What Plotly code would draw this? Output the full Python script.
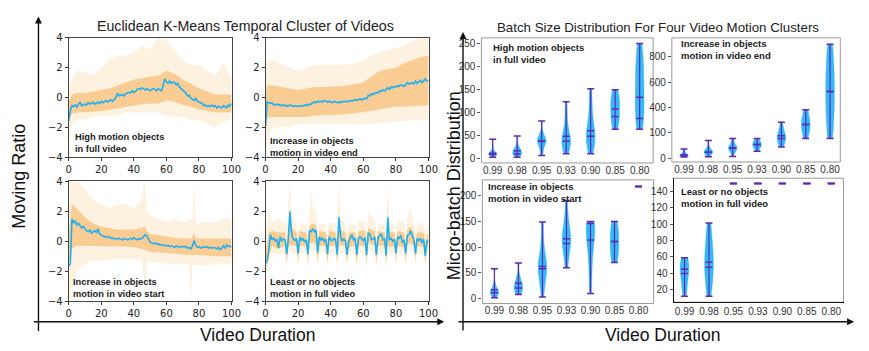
import plotly.graph_objects as go

W, H = 869, 351

# ---------------- time-series data (left block) ----------------
T = list(range(101))

TL_MEAN = [-1.6, -0.9, -0.55, -0.6, -0.5, -0.65, -0.45, -0.3, -0.55, -0.5,
           -0.45, -0.5, -0.35, -0.45, -0.4, -0.3, -0.45, -0.35, -0.3, -0.4,
           -0.25, -0.35, -0.3, -0.2, -0.3, -0.25, -0.15, -0.25, -0.1, 0.0,
           0.3, 0.1, 0.15, 0.2, 0.1, 0.25, 0.3, 0.35, 0.3, 0.45,
           0.35, 0.4, 0.55, 0.6, 0.55, 0.65, 0.6, 0.5, 0.6, 0.55,
           0.45, 0.55, 0.6, 0.55, 0.45, 0.6, 0.5, 0.45, 0.8, 1.25,
           1.05, 0.95, 1.1, 0.95, 1.05, 1.0, 0.85, 0.95, 0.7, 0.6,
           0.45, 0.35, 0.3, 0.1, 0.15, -0.05, -0.1, -0.2, -0.05, -0.25,
           -0.3, -0.35, -0.4, -0.55, -0.5, -0.6, -0.55, -0.6, -0.5, -0.6,
           -0.55, -0.7, -0.6, -0.65, -0.7, -0.55, -0.65, -0.7, -0.5, -0.6, -0.4]

TR_MEAN = [-1.95, -0.3, -0.35, -0.4, -0.35, -0.5, -0.45, -0.5, -0.45, -0.55,
           -0.5, -0.55, -0.5, -0.6, -0.55, -0.5, -0.55, -0.6, -0.55, -0.6,
           -0.6, -0.55, -0.6, -0.55, -0.5, -0.55, -0.45, -0.5, -0.4, -0.35,
           -0.3, -0.35, -0.25, -0.3, -0.25, -0.3, -0.2, -0.25, -0.3, -0.25,
           -0.3, -0.35, -0.25, -0.3, -0.35, -0.3, -0.35, -0.25, -0.3, -0.25,
           -0.3, -0.25, -0.2, -0.25, -0.2, -0.15, -0.2, -0.15, -0.1, -0.15,
           -0.1, -0.05, -0.1, 0.15, 0.1, 0.25, 0.2, 0.3, 0.35, 0.3,
           0.45, 0.4, 0.5, 0.45, 0.55, 0.65, 0.55, 0.7, 0.65, 0.75,
           0.7, 0.8, 0.75, 0.85, 0.8, 0.75, 0.85, 1.0, 0.9, 0.95,
           1.0, 0.9, 1.1, 0.95, 1.05, 1.15, 1.0, 1.15, 1.25, 1.1, 1.15]

BL_MEAN = [-1.65, -1.5, 1.5, 1.25, 1.35, 1.1, 1.2, 1.0, 0.9, 1.0,
           0.8, 0.7, 0.65, 0.75, 0.55, 0.6, 0.7, 0.6, 0.85, 0.5,
           0.4, 0.35, 0.3, 0.35, 0.25, 0.3, 0.2, 0.25, 0.15, 0.2,
           0.15, 0.2, 0.15, 0.1, 0.2, 0.15, 0.1, 0.15, 0.2, 0.15,
           0.25, 0.15, 0.1, 0.2, 0.15, 0.2, 0.3, 0.45, 0.35, 0.1,
           -0.05, -0.1, -0.15, -0.1, -0.2, -0.15, -0.25, -0.2, -0.3, -0.25,
           -0.3, -0.25, -0.35, -0.3, -0.35, -0.4, -0.3, -0.35, -0.4, -0.35,
           -0.35, -0.4, -0.35, -0.45, -0.4, -0.5, -0.3, 0.05, -0.25, -0.4,
           -0.35, -0.45, -0.4, -0.35, -0.4, -0.35, -0.45, -0.4, -0.45, -0.4,
           -0.45, -0.5, -0.4, -0.55, -0.45, -0.3, -0.45, -0.25, -0.35, -0.3, -0.4]

BR_MEAN = [-1.45, -1.3, -0.6, 0.45, 0.1, 0.25, 0.0, 0.15, -0.45, 0.3,
           0.05, 0.15, 0.1, -0.85, 0.2, 2.0, 0.5, 0.15, 0.05, 0.2,
           -0.8, 0.3, 0.05, 0.2, -0.05, 0.1, -0.85, 0.7, 0.65, 0.85,
           0.65, 0.75, -0.75, 0.3, 0.1, 0.2, 0.0, 0.15, -0.85, 0.3,
           0.1, 0.05, 0.2, 0.1, -0.9, 1.6, 0.4, 0.0, 0.15, 0.05,
           -0.9, 0.0, 0.2, 0.45, 0.1, 0.2, -0.9, 0.2, 0.3, 0.15,
           0.05, 0.25, -0.9, 0.55, 0.5, 0.1, 0.15, 0.3, -0.9, 0.25,
           0.4, 0.5, 0.1, 0.2, -0.95, 1.6, 0.1, 0.2, 0.0, 0.15,
           -0.8, 0.3, 0.2, 0.4, -0.1, 0.1, -0.8, 0.4, 0.45, 0.7,
           0.4, 0.1, -0.8, 0.2, 0.05, 0.2, -0.1, 0.15, -0.95, 0.0, 0.05]

# spread of the individual (orange) video curves: outer and dense inner envelopes
TL_BX = [0, 2, 5, 10, 15, 20, 25, 30, 35, 40, 45, 50, 55, 60, 65, 70, 75, 80, 85, 90, 95, 100]
TL_OUT_LO = [-3.2, -1.8, -1.5, -1.5, -1.3, -1.2, -1.2, -1.2, -1.0, -1.0, -1.0, -1.0, -1.0, -1.2, -1.3, -1.3, -1.5, -1.5, -1.8, -2.0, -1.6, -1.5]
TL_OUT_HI = [0.5, 1.2, 1.8, 1.7, 1.5, 2.0, 2.5, 2.8, 2.8, 3.0, 3.5, 3.2, 4.0, 3.8, 3.2, 2.5, 2.2, 2.2, 1.8, 1.5, 2.3, 1.2]
TL_IN_LO = [-1.5, -1.1, -1.0, -1.0, -0.95, -0.9, -0.8, -0.7, -0.6, -0.5, -0.45, -0.4, -0.4, -0.2, -0.3, -0.5, -0.6, -0.8, -0.9, -1.0, -1.0, -1.0]
TL_IN_HI = [-0.3, 0.2, 0.3, 0.3, 0.4, 0.5, 0.6, 0.8, 1.0, 1.2, 1.3, 1.4, 1.5, 1.8, 1.6, 1.2, 0.9, 0.6, 0.4, 0.2, 0.2, 0.2]

TR_BX = [0, 1, 3, 5, 10, 15, 20, 25, 30, 35, 40, 45, 50, 55, 60, 65, 70, 75, 80, 85, 90, 95, 100]
TR_OUT_LO = [-4.0, -3.0, -2.2, -2.0, -2.0, -2.0, -1.8, -1.8, -1.8, -1.8, -1.8, -1.8, -1.8, -1.8, -1.8, -1.8, -1.7, -1.7, -1.6, -1.6, -1.5, -1.5, -1.5]
TR_OUT_HI = [1.0, 2.5, 2.5, 2.5, 2.2, 2.0, 1.8, 2.0, 2.2, 2.2, 2.2, 2.2, 2.2, 2.3, 2.5, 2.8, 3.0, 3.2, 3.3, 3.5, 3.8, 4.0, 4.0]
TR_IN_LO = [-2.0, -1.4, -1.3, -1.3, -1.3, -1.3, -1.3, -1.3, -1.2, -1.2, -1.2, -1.15, -1.1, -1.05, -1.0, -0.9, -0.8, -0.7, -0.6, -0.6, -0.6, -0.55, -0.5]
TR_IN_HI = [0.0, 0.8, 0.8, 0.8, 0.7, 0.6, 0.5, 0.6, 0.7, 0.7, 0.7, 0.75, 0.8, 0.9, 1.0, 1.4, 1.8, 1.9, 2.0, 2.3, 2.5, 2.7, 2.8]

BL_BX = [0, 1, 2, 5, 10, 15, 20, 25, 30, 35, 40, 45, 46, 47, 48, 50, 55, 60, 65, 70, 74, 75, 76, 77, 78, 80, 85, 90, 95, 100]
BL_OUT_LO = [-4.0, -3.5, -3.0, -2.0, -1.5, -1.3, -1.3, -1.2, -1.2, -1.2, -1.2, -1.3, -2.5, -3.5, -1.4, -1.4, -1.4, -1.5, -1.5, -1.5, -1.5, -4.0, -1.6, -1.6, -1.6, -1.6, -1.6, -1.5, -1.5, -1.5]
BL_OUT_HI = [2.0, 4.0, 4.0, 4.0, 3.5, 2.8, 2.5, 2.2, 2.5, 2.5, 2.2, 2.8, 4.0, 4.0, 2.0, 1.8, 1.5, 1.3, 1.5, 1.3, 1.4, 1.5, 1.4, 4.0, 1.3, 1.2, 1.3, 1.2, 1.5, 1.5]
BL_IN_LO = [-1.5, -1.0, -0.5, -0.3, -0.3, -0.3, -0.3, -0.3, -0.3, -0.35, -0.4, -0.5, -0.55, -0.6, -0.65, -0.7, -0.75, -0.8, -0.85, -0.9, -0.9, -0.9, -0.9, -0.9, -0.9, -0.9, -0.95, -1.0, -1.0, -1.0]
BL_IN_HI = [0.5, 1.5, 2.5, 2.2, 1.6, 1.2, 1.0, 0.9, 0.8, 0.8, 0.8, 0.9, 1.0, 1.0, 0.7, 0.5, 0.4, 0.3, 0.25, 0.2, 0.2, 0.2, 0.3, 0.6, 0.2, 0.2, 0.2, 0.2, 0.2, 0.2]

BR_BX = [0, 2, 4, 8, 12, 13, 14, 15, 16, 19, 20, 21, 25, 26, 27, 28, 29, 31, 32, 33, 37, 38, 39,
         43, 44, 45, 46, 49, 50, 51, 55, 56, 57, 61, 62, 63, 67, 68, 69, 73, 74, 75, 76,
         79, 80, 81, 85, 86, 87, 89, 91, 92, 93, 97, 98, 99, 100]
BR_OUT_LO = [-2.3, -1.5, -0.8, -0.9, -0.8, -1.8, -0.9, -0.6, -0.8, -0.8, -1.8, -0.8, -0.8, -1.8, -0.7, -0.6, -0.6, -0.7, -1.8, -0.8, -0.8, -1.8, -0.8,
             -0.8, -1.9, -0.6, -0.8, -0.8, -1.8, -0.9, -0.8, -1.8, -0.8, -0.8, -1.8, -0.6, -0.8, -1.8, -0.8, -0.8, -1.9, -0.6, -0.9,
             -0.8, -1.7, -0.8, -0.9, -1.7, -0.7, -0.6, -0.8, -1.7, -0.8, -0.9, -1.8, -0.9, -0.9]
BR_OUT_HI = [0.3, 2.0, 1.3, 1.5, 1.2, 0.8, 2.5, 4.0, 1.8, 1.1, 0.5, 1.3, 1.1, 0.5, 2.0, 3.5, 2.2, 2.0, 0.6, 1.2, 1.1, 0.5, 1.3,
             1.2, 0.5, 4.0, 1.5, 1.1, 0.4, 1.1, 1.2, 0.4, 1.4, 1.3, 0.5, 2.0, 1.4, 0.4, 1.2, 1.2, 0.4, 4.0, 1.4,
             1.1, 0.5, 1.4, 1.3, 0.5, 1.6, 2.2, 1.2, 0.4, 1.2, 1.2, 0.4, 1.0, 1.2]
BR_IN_LO = [-1.8, -1.0, -0.3, -0.5, -0.3, -1.4, -0.4, -0.2, -0.3, -0.3, -1.4, -0.3, -0.3, -1.4, -0.2, -0.1, -0.1, -0.2, -1.4, -0.3, -0.3, -1.4, -0.3,
            -0.3, -1.4, -0.2, -0.3, -0.3, -1.4, -0.4, -0.3, -1.4, -0.3, -0.3, -1.4, -0.1, -0.3, -1.4, -0.3, -0.3, -1.4, -0.2, -0.4,
            -0.3, -1.3, -0.3, -0.4, -1.3, -0.2, -0.1, -0.3, -1.3, -0.3, -0.4, -1.4, -0.4, -0.4]
BR_IN_HI = [-0.8, 0.6, 0.7, 0.6, 0.6, -0.3, 0.8, 2.2, 0.9, 0.6, -0.3, 0.7, 0.6, -0.3, 1.0, 1.2, 1.2, 1.1, -0.2, 0.7, 0.6, -0.3, 0.7,
            0.6, -0.3, 1.9, 0.8, 0.6, -0.3, 0.6, 0.6, -0.3, 0.7, 0.7, -0.3, 0.9, 0.7, -0.3, 0.7, 0.6, -0.3, 1.9, 0.6,
            0.6, -0.2, 0.7, 0.6, -0.2, 0.8, 1.0, 0.6, -0.2, 0.6, 0.6, -0.3, 0.5, 0.5]

TS_LABELS = ["High motion objects<br>in full video",
             "Increase in objects<br>motion in video end",
             "Increase in objects<br>motion in video start",
             "Least or no objects<br>motion in full video"]

# ---------------- violin data (right block) ----------------
CATS = ["0.99", "0.98", "0.95", "0.93", "0.90", "0.85", "0.80"]

V_TL_SAMPLES = [[2, 5, 6, 7, 8, 8, 9, 10, 10, 11, 12, 13, 15, 18, 25, 41],
                [2, 6, 8, 9, 10, 12, 14, 16, 18, 20, 22, 30, 48],
                [6, 15, 22, 28, 32, 35, 37, 38, 40, 42, 45, 50, 58, 81],
                [10, 18, 25, 30, 33, 36, 38, 42, 48, 55, 65, 80, 100, 123],
                [10, 20, 28, 35, 40, 45, 48, 52, 58, 65, 75, 90, 110, 130, 151],
                [63, 70, 78, 85, 92, 100, 107, 114, 121, 128, 135, 142, 149],
                [63, 75, 85, 95, 110, 125, 140, 155, 170, 185, 200, 215, 230, 250]]
V_TL_MIN = [2, 2, 5.6, 9.8, 9.8, 63, 63]
V_TL_MAX = [41, 48, 81, 123, 151, 149, 250]
V_TL_MEAN = [10.5, 16, 36.5, 47.8, 59.7, 106.8, 132.8]
V_TL_MED = [7.7, 9, 36.5, 36.5, 47.8, 90.7, 86.4]

V_TR_SAMPLES = [[8, 12, 15, 18, 20, 22, 25, 28, 32, 40, 55, 71],
                [10, 25, 35, 40, 45, 50, 55, 60, 70, 90, 138],
                [13, 40, 55, 65, 72, 78, 82, 88, 95, 105, 130, 155],
                [54, 70, 85, 95, 102, 107, 112, 120, 130, 145, 155],
                [87, 110, 130, 145, 155, 165, 176, 190, 210, 240, 283],
                [155, 190, 220, 245, 265, 285, 310, 340, 382],
                [155, 250, 350, 450, 527, 600, 700, 800, 899]]
V_TR_MIN = [8, 10, 13, 54, 87, 155, 155]
V_TR_MAX = [71, 138, 155, 155, 283, 382, 899]
V_TR_MEAN = [25, 46, 79, 107, 176, 265, 527]
V_TR_MED = [25, 46, 79, 107, 155, 265, 527]
V_TR_TICKVALS = [0, 200, 400, 600, 800]
V_TR_TICKTEXT = ["0", "100", "400", "600", "800"]

V_BL_SAMPLES = [[1.3, 5, 8, 10, 11, 12, 14, 16, 18, 22, 30, 57.7],
                [7.5, 12, 16, 18, 20, 22, 25, 28, 32, 38, 45, 69],
                [2.5, 20, 35, 45, 52, 58, 62, 66, 72, 80, 95, 120, 148.6],
                [59.6, 80, 95, 105, 110, 116, 122, 130, 140, 160, 190.6],
                [9.4, 40, 70, 95, 110, 120, 130, 138, 143, 146, 148, 150],
                [70, 80, 90, 100, 110, 120, 130, 140, 150],
                []]
V_BL_MIN = [1.3, 7.5, 2.5, 59.6, 9.4, 70, 218]
V_BL_MAX = [57.7, 69, 148.6, 190.6, 150, 150, 218]
V_BL_MEAN = [16.9, 29.5, 62, 116, 113.5, 111, 218]
V_BL_MED = [10.7, 20, 57.7, 107, 146, 111, 218]

V_BR_SAMPLES = [[11.3, 20, 28, 35, 40, 44, 48, 52, 56, 58.8],
                [11.3, 25, 35, 45, 50, 55, 65, 75, 88, 101.6],
                [], [], [], [], []]
V_BR_MIN = [11.3, 11.3, 150, 150, 150, 150, 150]
V_BR_MAX = [58.8, 101.6, 150, 150, 150, 150, 150]
V_BR_MEAN = [44.6, 53.3, 150, 150, 150, 150, 150]
V_BR_MED = [39.4, 47, 150, 150, 150, 150, 150]

V_LABELS = TS_LABELS

# ---------------- styling ----------------
BLUE = "#1eb0f0"
ORANGE_OUT = "rgba(246,172,74,0.17)"
ORANGE_IN = "rgba(242,160,50,0.45)"
VIOLIN_FILL = "rgba(24,176,242,0.88)"
PURPLE = "#6228b4"
ARIAL = "Liberation Sans, Arial, sans-serif"
DEJAVU = "DejaVu Sans, sans-serif"


def px(xp):
    return xp / W


def py(yp):
    return 1 - yp / H


def axkey(i, kind):
    return kind + "axis" + ("" if i == 1 else str(i))


def axref(i, kind):
    return kind + ("" if i == 1 else str(i))


fig = go.Figure()
layout = dict(width=W, height=H, margin=dict(l=0, r=0, t=0, b=0),
              paper_bgcolor="white", plot_bgcolor="white", showlegend=False,
              violinmode="overlay")

# --- time-series panels ---
ts_boxes = [(66.7, 232.0, 33.0, 156.5), (266.5, 432.0, 33.0, 156.5),
            (66.7, 232.0, 181.7, 305.7), (266.5, 432.0, 181.7, 305.7)]
ts_data = [(TL_MEAN, TL_BX, TL_OUT_LO, TL_OUT_HI, TL_IN_LO, TL_IN_HI),
           (TR_MEAN, TR_BX, TR_OUT_LO, TR_OUT_HI, TR_IN_LO, TR_IN_HI),
           (BL_MEAN, BL_BX, BL_OUT_LO, BL_OUT_HI, BL_IN_LO, BL_IN_HI),
           (BR_MEAN, BR_BX, BR_OUT_LO, BR_OUT_HI, BR_IN_LO, BR_IN_HI)]

annotations = []
for k, ((x0, x1, y0, y1), (mean, bx, olo, ohi, ilo, ihi)) in enumerate(zip(ts_boxes, ts_data)):
    i = k + 1
    xa, ya = axref(i, "x"), axref(i, "y")
    common = dict(xaxis=xa, yaxis=ya, hoverinfo="skip", showlegend=False)
    fig.add_trace(go.Scatter(x=bx, y=olo, mode="lines", line=dict(width=0, color=ORANGE_OUT), **common))
    fig.add_trace(go.Scatter(x=bx, y=ohi, mode="lines", line=dict(width=0, color=ORANGE_OUT),
                             fill="tonexty", fillcolor=ORANGE_OUT, **common))
    fig.add_trace(go.Scatter(x=bx, y=ilo, mode="lines", line=dict(width=0, color=ORANGE_IN), **common))
    fig.add_trace(go.Scatter(x=bx, y=ihi, mode="lines", line=dict(width=0, color=ORANGE_IN),
                             fill="tonexty", fillcolor=ORANGE_IN, **common))
    fig.add_trace(go.Scatter(x=T, y=mean, mode="lines", line=dict(width=1.6, color=BLUE), **common))
    layout[axkey(i, "x")] = dict(domain=[px(x0), px(x1)], anchor=ya, range=[0, 100],
                                 tickvals=[0, 20, 40, 60, 80, 100], ticks="outside", ticklen=3,
                                 tickcolor="#333", showline=True, linecolor="#444", linewidth=1,
                                 mirror=True, showgrid=False, zeroline=False,
                                 tickfont=dict(family=DEJAVU, size=10, color="#222"))
    layout[axkey(i, "y")] = dict(domain=[py(y1), py(y0)], anchor=xa, range=[-4, 4],
                                 tickvals=[-4, -2, 0, 2, 4], ticks="outside", ticklen=3,
                                 tickcolor="#333", showline=True, linecolor="#444", linewidth=1,
                                 mirror=True, showgrid=False, zeroline=False,
                                 tickfont=dict(family=DEJAVU, size=10, color="#222"))

ts_text_pos = [(71.0, 142.0), (269.3, 145.5), (69.0, 292.0), (269.3, 292.0)]
for (tx, ty), txt in zip(ts_text_pos, TS_LABELS):
    annotations.append(dict(x=px(tx), y=py(ty), xref="paper", yref="paper", text="<b>" + txt + "</b>",
                            showarrow=False, xanchor="left", yanchor="middle", align="left",
                            font=dict(family=ARIAL, size=9.3, color="#222")))

# --- violin panels ---
v_boxes = [(485.7, 660.0, 33.0, 162.5), (679.0, 850.0, 33.0, 161.5),
           (486.7, 660.5, 180.0, 308.0), (680.7, 853.3, 178.3, 306.7)]
v_xranges = [[-0.46, 6.55], [-0.5, 6.42], [-0.5, 6.63], [-0.45, 6.5]]
v_yranges = [[-10.5, 262], [-31, 950], [-10, 231], [4.1, 156.6]]
v_ticks = [([0, 50, 100, 150, 200, 250], None), (V_TR_TICKVALS, V_TR_TICKTEXT),
           ([0, 50, 100, 150, 200], None), ([20, 40, 60, 80, 100, 120, 140], None)]
v_data = [(V_TL_SAMPLES, V_TL_MIN, V_TL_MAX, V_TL_MEAN, V_TL_MED),
          (V_TR_SAMPLES, V_TR_MIN, V_TR_MAX, V_TR_MEAN, V_TR_MED),
          (V_BL_SAMPLES, V_BL_MIN, V_BL_MAX, V_BL_MEAN, V_BL_MED),
          (V_BR_SAMPLES, V_BR_MIN, V_BR_MAX, V_BR_MEAN, V_BR_MED)]

shapes = []
for k in range(4):
    i = k + 5
    xa, ya = axref(i, "x"), axref(i, "y")
    x0, x1, y0, y1 = v_boxes[k]
    samples, mins, maxs, means, meds = v_data[k]
    # one violin trace per category so each violin gets its own width scaling
    for c, s in zip(CATS, samples):
        if not s:
            continue
        fig.add_trace(go.Violin(x=[c] * len(s), y=s, xaxis=xa, yaxis=ya, width=0.36,
                                scalemode="width", spanmode="hard", points=False,
                                fillcolor=VIOLIN_FILL,
                                line=dict(color="rgba(24,176,242,0.55)", width=0.6),
                                hoverinfo="skip", showlegend=False))
    lx, ly = [], []
    for c, lo, hi in zip(CATS, mins, maxs):
        lx += [c, c, None]
        ly += [lo, hi, None]
    fig.add_trace(go.Scatter(x=lx, y=ly, xaxis=xa, yaxis=ya, mode="lines",
                             line=dict(color=PURPLE, width=1.2), hoverinfo="skip", showlegend=False))
    fig.add_trace(go.Scatter(x=CATS * 4, y=mins + maxs + means + meds, xaxis=xa, yaxis=ya,
                             mode="markers", marker=dict(symbol="line-ew", size=5,
                                                         line=dict(color=PURPLE, width=1.5)),
                             hoverinfo="skip", showlegend=False))
    tv, tt = v_ticks[k]
    yax = dict(domain=[py(y1), py(y0)], anchor=xa, range=v_yranges[k], tickvals=tv,
               ticks="outside", ticklen=3, tickcolor="#555", showgrid=False, zeroline=False,
               showline=False, tickfont=dict(family=ARIAL, size=10, color="#333"))
    if tt is not None:
        yax["ticktext"] = tt
    xax = dict(domain=[px(x0), px(x1)], anchor=ya, type="category", categoryorder="array",
               categoryarray=CATS, range=v_xranges[k], ticks="", showgrid=False, zeroline=False,
               showline=False, tickfont=dict(family=ARIAL, size=10, color="#333"))
    if k == 3:
        xax.update(showline=True, linecolor="#111", linewidth=1)
        yax.update(showline=True, linecolor="#111", linewidth=1)
    layout[axkey(i, "x")] = xax
    layout[axkey(i, "y")] = yax
    shapes.append(dict(type="rect", xref=xa + " domain", yref=ya + " domain", x0=0, x1=1, y0=0, y1=1,
                       line=dict(color="#9a9a9a", width=1), layer="below"))

v_text_pos = [(495.0, 48.8), (686.0, 45.5), (490.7, 193.0), (686.0, 198.7)]
for (tx, ty), txt in zip(v_text_pos, V_LABELS):
    annotations.append(dict(x=px(tx), y=py(ty), xref="paper", yref="paper", text="<b>" + txt + "</b>",
                            showarrow=False, xanchor="left", yanchor="middle", align="left",
                            font=dict(family=ARIAL, size=9.5, color="#222")))

# --- titles and big axis labels ---
annotations += [
    dict(x=px(246.5), y=py(21), xref="paper", yref="paper", text="Euclidean K-Means Temporal Cluster of Videos",
         showarrow=False, font=dict(family=ARIAL, size=14.2, color="#222"), xanchor="center", yanchor="middle"),
    dict(x=px(664.5), y=py(22), xref="paper", yref="paper", text="Batch Size Distribution For Four Video Motion Clusters",
         showarrow=False, font=dict(family=ARIAL, size=13.3, color="#222"), xanchor="center", yanchor="middle"),
    dict(x=px(16), y=py(176), xref="paper", yref="paper", text="Moving Ratio", textangle=-90,
         showarrow=False, font=dict(family=ARIAL, size=18, color="#111"), xanchor="center", yanchor="middle"),
    dict(x=px(258), y=py(341), xref="paper", yref="paper", text="Video Duration",
         showarrow=False, font=dict(family=ARIAL, size=17.5, color="#111"), xanchor="center", yanchor="middle"),
    dict(x=px(458), y=py(186.5), xref="paper", yref="paper", text="Micro-batch Distribution", textangle=-90,
         showarrow=False, font=dict(family=ARIAL, size=18, color="#111"), xanchor="center", yanchor="middle"),
    dict(x=px(670), y=py(341), xref="paper", yref="paper", text="Video Duration",
         showarrow=False, font=dict(family=ARIAL, size=17.5, color="#111"), xanchor="center", yanchor="middle"),
]

# --- arrowed axes framing each block ---
arrow_style = dict(xref="paper", yref="paper", text="", showarrow=True, arrowhead=2, arrowsize=1,
                   arrowwidth=1.4, arrowcolor="#111")
annotations += [
    dict(x=px(36), y=py(11), ax=0, ay=316, **arrow_style),
    dict(x=px(448), y=py(327), ax=-412, ay=0, **arrow_style),
    dict(x=px(467), y=py(27), ax=0, ay=300, **arrow_style),
    dict(x=px(864), y=py(327), ax=-397, ay=0, **arrow_style),
]

layout["annotations"] = annotations
layout["shapes"] = shapes
fig.update_layout(**layout)
fig.write_html("out.html", config={"displayModeBar": False},
               post_script="document.body.style.margin='0';document.body.style.padding='0';"
                           "document.body.style.overflow='hidden';")
